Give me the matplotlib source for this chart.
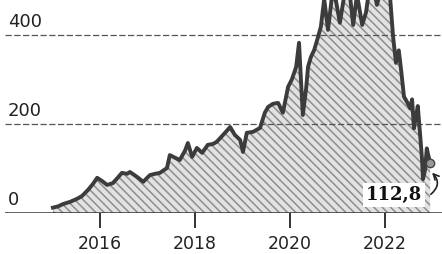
import matplotlib
matplotlib.use('Agg')
import matplotlib.pyplot as plt
import matplotlib.transforms as mtransforms

# price series (decimal year, value)
years = [2015.01, 2015.12, 2015.22, 2015.37, 2015.52, 2015.62, 2015.75, 2015.85, 2015.94,
         2016.04, 2016.15, 2016.27, 2016.38, 2016.46, 2016.57, 2016.63, 2016.78, 2016.91,
         2017.05, 2017.16, 2017.26, 2017.41, 2017.47, 2017.58, 2017.68, 2017.79, 2017.85, 2017.94,
         2018.04, 2018.15, 2018.27, 2018.38, 2018.46, 2018.59, 2018.74, 2018.84, 2018.95,
         2019.01, 2019.09, 2019.22, 2019.37, 2019.47, 2019.54, 2019.64, 2019.75, 2019.85, 2019.96,
         2020.04, 2020.13, 2020.19, 2020.23, 2020.27, 2020.34, 2020.38, 2020.44, 2020.51, 2020.59,
         2020.65, 2020.72, 2020.80, 2020.91, 2021.05, 2021.16, 2021.24, 2021.33, 2021.41, 2021.52,
         2021.60, 2021.68, 2021.77, 2021.83, 2021.92, 2022.02, 2022.11, 2022.17, 2022.23, 2022.29,
         2022.34, 2022.40, 2022.46, 2022.53, 2022.57, 2022.61, 2022.65, 2022.69, 2022.74, 2022.78,
         2022.80, 2022.84, 2022.88, 2022.91, 2022.95]
values = [12, 15, 20, 25, 32, 38, 52, 65, 79,
          72, 63, 67, 80, 90, 88, 92, 81, 70,
          85, 88, 90, 101, 130, 124, 119, 140, 157, 126,
          146, 135, 153, 155, 160, 175, 193, 175, 164,
          137, 180, 182, 191, 225, 238, 245, 247, 225, 283,
          300, 328, 382, 300, 220, 280, 328, 350, 366, 395,
          418, 480, 411, 510, 427, 500, 510, 422, 490, 422,
          450, 510, 500, 467, 505, 510, 480, 396, 337, 365,
          320, 261, 250, 235, 255, 190, 215, 240, 175, 120,
          76, 95, 145, 130, 112.8]

xticks = [2016, 2018, 2020, 2022]
ygrid = [0, 200, 400]
last_label = '112,8'

plt.rcParams['hatch.color'] = '#8e8e8e'
plt.rcParams['hatch.linewidth'] = 1.1

fig = plt.figure(figsize=(4.42, 2.54), dpi=100)
ax = fig.add_axes([5 / 442, 1 - 213 / 254, 437 / 442, 213 / 254])
ax.set_xlim(2014.0, 2023.2)
ax.set_ylim(0, 478)

# hatched area + thick line
ax.fill_between(years, values, 0, facecolor='#e2e2e2', edgecolor='#8e8e8e',
                hatch='\\\\\\\\', linewidth=0, zorder=1)
ax.plot(years, values, color='#3c3c3c', lw=2.8, solid_joinstyle='round', zorder=3)

# gridlines and labels
trans = mtransforms.blended_transform_factory(ax.transAxes, ax.transData)
for g in ygrid:
    if g == 0:
        ax.axhline(0, color='#333333', lw=1.8, zorder=4)
    else:
        ax.axhline(g, color='#555555', lw=0.9, ls=(0, (5, 2)), zorder=2)
    ax.text(0.006, g + 8, str(g), transform=trans, fontsize=13, color='#222222',
            va='bottom', ha='left')

for s in ax.spines.values():
    s.set_visible(False)
ax.set_yticks([])
ax.set_xticks(xticks)
ax.set_xticklabels([str(t) for t in xticks])
ax.tick_params(axis='x', direction='out', length=11, width=1.4, color='#333333',
               labelsize=12.5, labelcolor='#222222', pad=5)

# end point marker and label
ax.plot(years[-1], values[-1], 'o', ms=6, mfc='#9a9a9a', mec='#444444', mew=1, zorder=5)
ax.text(2022.19, 40, last_label, fontsize=13, fontweight='bold', family='DejaVu Serif',
        ha='center', va='center', color='#111111', zorder=6,
        bbox=dict(boxstyle='square,pad=0.15', fc='white', ec='none'))
ax.annotate('', xy=(2022.95, 95), xytext=(2022.92, 38),
            arrowprops=dict(arrowstyle='->', color='#222222', lw=1.2,
                            connectionstyle='arc3,rad=0.6'), zorder=6)

fig.savefig('out.png', dpi=100)
